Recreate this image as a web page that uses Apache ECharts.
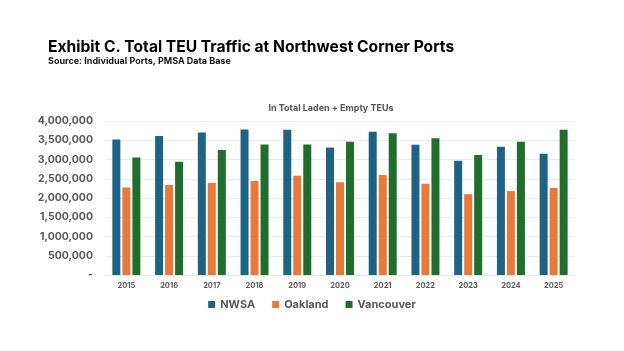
<!DOCTYPE html>
<html>
<head>
<meta charset="utf-8">
<script src="https://cdn.jsdelivr.net/npm/echarts@6/dist/echarts.min.js"></script>
<style>
  html, body { margin: 0; padding: 0; background: #fff; }
  #chart { width: 624px; height: 351px; }
</style>
</head>
<body>
<div id="chart"></div>
<script>
const years = ["2015", "2016", "2017", "2018", "2019", "2020", "2021", "2022", "2023", "2024", "2025"];
const nwsa = [3520000, 3610000, 3700000, 3780000, 3770000, 3310000, 3720000, 3380000, 2970000, 3330000, 3150000];
const oakland = [2270000, 2340000, 2390000, 2440000, 2580000, 2410000, 2600000, 2370000, 2100000, 2180000, 2260000];
const vancouver = [3050000, 2940000, 3250000, 3390000, 3390000, 3460000, 3680000, 3550000, 3120000, 3460000, 3770000];
const yTicks = [0, 500000, 1000000, 1500000, 2000000, 2500000, 3000000, 3500000, 4000000];

const font = "Inter, 'Open Sans', sans-serif";

function fmt(v) {
  if (v === 0) return "-";
  return v.toLocaleString("en-US");
}

const chart = echarts.init(document.getElementById("chart"));

function bar(name, data, color) {
  return {
    name: name,
    type: "bar",
    data: data,
    barWidth: 8,
    barGap: "25%",
    itemStyle: { color: color },
  };
}

chart.setOption({
  backgroundColor: "#fff",
  animation: false,
  title: [
    {
      text: "Exhibit C. Total TEU Traffic at Northwest Corner Ports",
      left: 43,
      top: 34,
      textStyle: { fontFamily: font, fontSize: 15.6, fontWeight: "bold", color: "#000" },
    },
    {
      text: "Source: Individual Ports, PMSA Data Base",
      left: 43,
      top: 52,
      textStyle: { fontFamily: font, fontSize: 9, fontWeight: "bold", color: "#111" },
    },
    {
      text: "In Total Laden + Empty TEUs",
      left: 326,
      textAlign: "center",
      top: 99,
      textStyle: { fontFamily: font, fontSize: 9, fontWeight: "bold", color: "#555" },
    },
  ],
  legend: {
    data: ["NWSA", "Oakland", "Vancouver"],
    left: "center",
    top: 294,
    icon: "rect",
    itemWidth: 7,
    itemHeight: 7,
    itemGap: 17,
    textStyle: { fontFamily: font, fontSize: 11, fontWeight: "bold", color: "#595959" },
  },
  grid: {
    left: 105,
    right: 49,
    top: 121,
    bottom: 76,
    containLabel: false,
  },
  xAxis: {
    type: "category",
    data: years,
    axisTick: { show: false },
    axisLine: { lineStyle: { color: "#e6e6e6" } },
    axisLabel: { fontFamily: font, fontSize: 7.5, fontWeight: "bold", color: "#595959", margin: 7 },
  },
  yAxis: {
    type: "value",
    min: 0,
    max: 4000000,
    interval: 500000,
    axisLine: { show: false },
    axisTick: { show: false },
    splitLine: { lineStyle: { color: "#ececec" } },
    axisLabel: {
      fontFamily: font,
      fontSize: 10.5,
      fontWeight: "bold",
      color: "#595959",
      margin: 12,
      formatter: function (v) {
        return yTicks.indexOf(v) >= 0 ? fmt(v) : "";
      },
    },
  },
  series: [
    bar("NWSA", nwsa, "#1f6384"),
    bar("Oakland", oakland, "#e8793b"),
    bar("Vancouver", vancouver, "#1f6e2d"),
  ],
});
</script>
</body>
</html>
